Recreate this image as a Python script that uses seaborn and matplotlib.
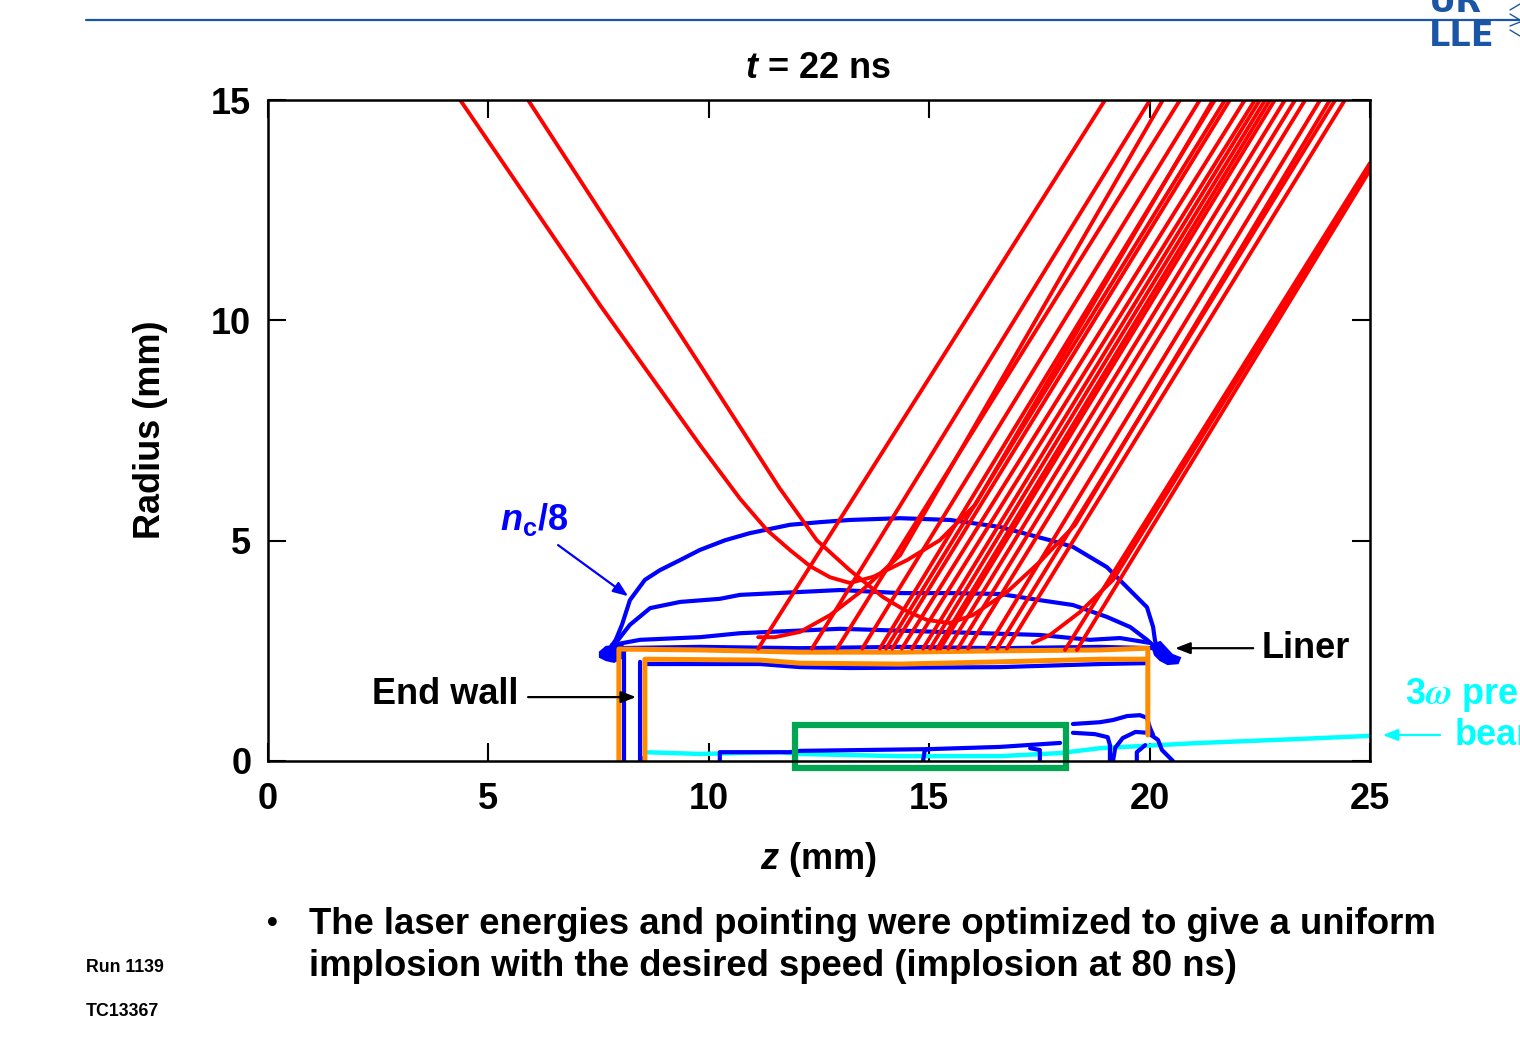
import matplotlib
matplotlib.use("Agg")
import matplotlib.pyplot as plt
from matplotlib.patches import Rectangle, Polygon
from matplotlib.lines import Line2D
import pandas as pd
import seaborn as sns

sns.set_style("ticks")
plt.rcParams["font.family"] = ["Liberation Sans", "DejaVu Sans"]
plt.rcParams["font.weight"] = "bold"
plt.rcParams["text.color"] = "black"
plt.rcParams["xtick.color"] = "black"
plt.rcParams["ytick.color"] = "black"
plt.rcParams["mathtext.fontset"] = "custom"
plt.rcParams["mathtext.rm"] = "Liberation Sans:bold"
plt.rcParams["mathtext.it"] = "Liberation Sans:italic:bold"
plt.rcParams["mathtext.bf"] = "Liberation Sans:bold"

# ---- axes ----
Z_TICKS = [0, 5, 10, 15, 20, 25]
R_TICKS = [0, 5, 10, 15]

# ---- straight incoming rays: z at r = 15 (top) and z where they hit the liner ----
RAY_Z_TOP = [18.99, 20.01, 20.69, 21.14, 21.48, 21.71, 21.82, 22.16, 22.39, 22.50,
             22.62, 22.73, 22.84, 23.07, 23.30, 23.53, 23.87, 24.21, 24.43]
RAY_Z_LINER = [11.12, 12.34, 12.91, 13.48, 13.88, 14.02, 14.16, 14.38, 14.61, 14.86,
               15.02, 15.18, 15.25, 15.43, 15.65, 15.88, 16.31, 16.54, 16.76]
RAY_R_TOP = 15.0
RAY_R_LINER = 2.55

# ---- curved rays (z, r) ----
RAY_HOOK_Z = [11.12, 11.50, 12.07, 12.75, 13.43, 14.34, 20.30]
RAY_HOOK_R = [2.81, 2.81, 2.93, 3.31, 3.83, 4.67, 15.0]
RAY_P1_Z = [4.36, 7.53, 9.80, 10.71, 11.32, 11.85, 12.30, 12.75, 13.20, 13.73, 14.50,
            15.24, 16.04, 21.44]
RAY_P1_R = [15.0, 10.35, 7.17, 5.95, 5.24, 4.78, 4.42, 4.17, 4.04, 4.18, 4.56,
            5.01, 5.81, 15.0]
RAY_P2_Z = [5.90, 9.80, 11.60, 12.45, 13.20, 13.95, 14.45, 14.95, 15.47, 15.99, 16.76,
            17.51, 18.31, 24.09]
RAY_P2_R = [15.0, 8.99, 6.20, 5.01, 4.33, 3.72, 3.42, 3.20, 3.13, 3.31, 3.83,
            4.52, 5.36, 15.0]
RAY_F1_Z = [25.0, 18.08]
RAY_F1_R = [13.57, 2.52]
RAY_F2_Z = [25.0, 18.35]
RAY_F2_R = [13.41, 2.52]
RAY_F3_Z = [25.0, 19.17, 18.42, 17.74, 17.35]
RAY_F3_R = [13.50, 4.11, 3.38, 2.86, 2.68]

# ---- density contours (z, r) ----
NC8_Z = [7.76, 7.89, 8.03, 8.21, 8.55, 8.89, 9.35, 9.80, 10.37, 10.93, 11.84, 12.52, 13.20,
         14.34, 15.47, 16.61, 17.74, 18.26, 19.03, 19.62, 19.94, 20.08, 20.12, 20.17]
NC8_R = [2.56, 2.75, 3.09, 3.65, 4.11, 4.33, 4.56, 4.79, 5.01, 5.17, 5.36, 5.42, 5.47,
         5.51, 5.47, 5.31, 5.01, 4.86, 4.40, 3.81, 3.49, 3.04, 2.75, 2.52]
C2_Z = [7.85, 8.21, 8.67, 9.35, 10.25, 10.71, 12.98, 14.34, 15.47, 16.61, 17.51, 18.26,
        19.03, 19.56, 19.94, 20.12]
C2_R = [2.63, 3.09, 3.47, 3.61, 3.68, 3.77, 3.88, 3.81, 3.81, 3.79, 3.65, 3.54,
        3.27, 3.04, 2.75, 2.59]
C3_Z = [7.80, 8.44, 9.80, 10.71, 12.98, 15.24, 17.51, 18.65, 19.33, 20.01]
C3_R = [2.63, 2.75, 2.81, 2.90, 3.00, 2.93, 2.86, 2.75, 2.79, 2.68]
LINER_OUT_Z = [7.80, 9.80, 12.07, 14.34, 16.61, 18.87, 20.12]
LINER_OUT_R = [2.56, 2.59, 2.56, 2.59, 2.56, 2.59, 2.56]
LINER_IN_Z = [8.55, 11.16, 12.07, 13.20, 16.61, 18.87, 19.94]
LINER_IN_R = [2.20, 2.20, 2.13, 2.11, 2.13, 2.20, 2.22]
WALL_A_Z = [8.08, 8.08]
WALL_A_R = [2.56, 0.0]
WALL_B_Z = [8.44, 8.44, 8.55]
WALL_B_R = [2.25, 0.0, 0.09]
AXIS_A_Z = [10.25, 10.25, 11.84, 12.07, 15.02, 16.61, 17.97]
AXIS_A_R = [0.0, 0.20, 0.20, 0.23, 0.27, 0.32, 0.41]
AXIS_B_Z = [14.86, 14.90, 15.02]
AXIS_B_R = [0.0, 0.25, 0.27]
AXIS_C_Z = [17.51, 17.51, 17.29]
AXIS_C_R = [0.0, 0.25, 0.29]
END_A_Z = [18.26, 18.87, 19.17, 19.49, 19.78, 19.94, 20.01, 20.08]
END_A_R = [0.84, 0.88, 0.93, 1.02, 1.04, 0.98, 0.75, 0.59]
END_B_Z = [18.26, 18.76, 19.05, 19.10, 19.10]
END_B_R = [0.64, 0.61, 0.54, 0.36, 0.0]
END_C_Z = [19.17, 19.22, 19.39, 19.68, 19.96, 20.19, 20.28, 20.53]
END_C_R = [0.0, 0.30, 0.52, 0.66, 0.64, 0.48, 0.25, 0.0]
END_D_Z = [19.71, 19.71, 19.90]
END_D_R = [0.0, 0.20, 0.36]
BLOB_L_Z = [7.53, 7.67, 7.87, 8.03, 8.12, 8.03, 7.85, 7.67, 7.53]
BLOB_L_R = [2.47, 2.59, 2.61, 2.63, 2.52, 2.34, 2.25, 2.29, 2.36]
BLOB_R_Z = [20.05, 20.24, 20.37, 20.51, 20.69, 20.64, 20.41, 20.24, 20.12]
BLOB_R_R = [2.63, 2.70, 2.56, 2.41, 2.34, 2.22, 2.20, 2.29, 2.41]

# ---- liner / end wall (z, r) ----
LINER_OUTER_Z = [7.96, 7.96, 9.80, 12.07, 14.34, 16.61, 18.87, 19.96, 19.96]
LINER_OUTER_R = [0.0, 2.54, 2.52, 2.47, 2.47, 2.50, 2.52, 2.56, 0.59]
LINER_INNER_Z = [8.55, 8.55, 11.16, 12.07, 14.34, 16.61, 18.87, 19.92]
LINER_INNER_R = [0.0, 2.31, 2.29, 2.22, 2.20, 2.25, 2.31, 2.31]

# ---- 3-omega preheat beam (z, r) ----
BEAM_Z = [8.55, 9.80, 11.62, 12.07, 14.34, 16.61, 17.97, 18.87, 21.14, 23.41, 25.0]
BEAM_R = [0.20, 0.16, 0.20, 0.16, 0.11, 0.11, 0.18, 0.29, 0.41, 0.50, 0.57]

# ---- highlighted region (z0, r0, width, height) ----
BOX = (11.96, -0.16, 6.14, 0.98)

RED = "#ff0000"
BLUE = "#0000ff"
ORANGE = "#ff8c00"
CYAN = "#00ffff"
GREEN = "#00a651"
LOGO_BLUE = "#1a55a6"
FS = 26

fig = plt.figure(figsize=(15.2, 10.41), dpi=100)
ax = fig.add_axes([268 / 1520, 1 - 761 / 1041, 1102 / 1520, 661 / 1041])


def frame(pairs):
    rows = []
    for k, (zs, rs) in enumerate(pairs):
        for i, (z, r) in enumerate(zip(zs, rs)):
            rows.append({"id": k, "order": i, "z": z, "r": r})
    return pd.DataFrame(rows)


# preheat beam
ax.plot(BEAM_Z, BEAM_R, color=CYAN, lw=3.2, zorder=2, solid_capstyle="round")

# blue density contours
blue_df = frame([(NC8_Z, NC8_R), (C2_Z, C2_R), (C3_Z, C3_R),
                 (LINER_OUT_Z, LINER_OUT_R), (LINER_IN_Z, LINER_IN_R),
                 (WALL_A_Z, WALL_A_R), (WALL_B_Z, WALL_B_R),
                 (AXIS_A_Z, AXIS_A_R), (AXIS_B_Z, AXIS_B_R), (AXIS_C_Z, AXIS_C_R),
                 (END_A_Z, END_A_R), (END_B_Z, END_B_R), (END_C_Z, END_C_R),
                 (END_D_Z, END_D_R)])
sns.lineplot(data=blue_df, x="z", y="r", units="id", estimator=None, sort=False,
             color=BLUE, lw=3.0, ax=ax, legend=False, zorder=3)
for zs, rs in [(BLOB_L_Z, BLOB_L_R), (BLOB_R_Z, BLOB_R_R)]:
    ax.add_patch(Polygon(list(zip(zs, rs)), closed=True, fc=BLUE, ec=BLUE, lw=1.5, zorder=3))

# liner and end wall
for zs, rs in [(LINER_OUTER_Z, LINER_OUTER_R), (LINER_INNER_Z, LINER_INNER_R)]:
    ax.plot(zs, rs, color=ORANGE, lw=3.6, zorder=4, solid_capstyle="round",
            solid_joinstyle="round")

# laser rays
ray_sets = [([zt, zb], [RAY_R_TOP, RAY_R_LINER]) for zt, zb in zip(RAY_Z_TOP, RAY_Z_LINER)]
ray_sets += [(RAY_HOOK_Z, RAY_HOOK_R), (RAY_P1_Z, RAY_P1_R), (RAY_P2_Z, RAY_P2_R),
             (RAY_F1_Z, RAY_F1_R), (RAY_F2_Z, RAY_F2_R), (RAY_F3_Z, RAY_F3_R)]
ray_df = frame(ray_sets)
sns.lineplot(data=ray_df, x="z", y="r", units="id", estimator=None, sort=False,
             color=RED, lw=2.8, ax=ax, legend=False, zorder=5)

# highlighted region
ax.add_patch(Rectangle(BOX[:2], BOX[2], BOX[3], fill=False, ec=GREEN, lw=4.5,
                       zorder=6, clip_on=False))

ax.set_xlim(Z_TICKS[0], Z_TICKS[-1])
ax.set_ylim(R_TICKS[0], R_TICKS[-1])
ax.set_xticks(Z_TICKS)
ax.set_yticks(R_TICKS)
ax.set_xticklabels([str(t) for t in Z_TICKS])
ax.set_yticklabels([str(t) for t in R_TICKS])
ax.tick_params(direction="in", length=13, width=1.5, top=True, right=True,
               labelsize=FS, color="black", labelcolor="black")
ax.tick_params(axis="x", pad=15)
ax.tick_params(axis="y", pad=12)
for lab in ax.get_xticklabels() + ax.get_yticklabels():
    lab.set_fontweight("bold")
for sp in ax.spines.values():
    sp.set_linewidth(1.8)
    sp.set_color("black")
    sp.set_zorder(7)
ax.set_xlabel("")
ax.set_ylabel("")

ax.text(0.499, 1.048, r"$\it{t}$ = 22 ns", transform=ax.transAxes, ha="center",
        va="center", fontsize=FS, fontweight="bold")
ax.text(0.499, -0.1497, r"$\it{z}$ (mm)", transform=ax.transAxes, ha="center",
        va="center", fontsize=FS, fontweight="bold")
ax.text(-0.107, 0.5008, "Radius (mm)", transform=ax.transAxes, ha="center",
        va="center", rotation=90, fontsize=FS, fontweight="bold")

# annotations
ARROW = "-|>,head_length=0.9,head_width=0.35"
ax.annotate("", xy=(8.17, 3.74), xytext=(6.58, 4.90),
            arrowprops=dict(arrowstyle=ARROW, color=BLUE, lw=1.6, shrinkA=0, shrinkB=0),
            zorder=8)
ax.text(5.26, 5.47, r"$\it{n}_\mathrm{c}$/8", color=BLUE, fontsize=FS,
        fontweight="bold", ha="left", va="center")
ax.annotate("", xy=(20.58, 2.56), xytext=(22.35, 2.56), annotation_clip=False,
            arrowprops=dict(arrowstyle=ARROW, color="black", lw=1.6, shrinkA=0, shrinkB=0),
            zorder=8)
ax.text(22.55, 2.56, "Liner", fontsize=FS, fontweight="bold", ha="left", va="center",
        clip_on=False)
ax.annotate("", xy=(8.35, 1.45), xytext=(5.90, 1.45), annotation_clip=False,
            arrowprops=dict(arrowstyle=ARROW, color="black", lw=1.6, shrinkA=0, shrinkB=0),
            zorder=8)
ax.text(5.67, 1.50, "End wall", fontsize=FS, fontweight="bold", ha="right", va="center")
ax.annotate("", xy=(25.29, 0.59), xytext=(26.59, 0.59), annotation_clip=False,
            arrowprops=dict(arrowstyle=ARROW, color=CYAN, lw=1.6, shrinkA=0, shrinkB=0),
            zorder=8)
ax.text(25.79, 1.52, r"3$\omega$ preheat", color=CYAN, fontsize=FS, fontweight="bold",
        ha="left", va="center", clip_on=False, math_fontfamily="stix")
ax.text(26.93, 0.57, "beam", color=CYAN, fontsize=FS, fontweight="bold",
        ha="left", va="center", clip_on=False)

# header rule and logo
fig.add_artist(Line2D([86 / 1520, 1.0], [1 - 20 / 1041] * 2, color=LOGO_BLUE, lw=1.6))
fig.text(1429 / 1520, 1 - 37 / 1041, "LLE", color=LOGO_BLUE, fontsize=24,
         fontweight="bold", ha="left", va="center", family="DejaVu Sans")
fig.text(1429 / 1520, 1 - 3 / 1041, "UR", color=LOGO_BLUE, fontsize=24,
         fontweight="bold", ha="left", va="center", family="DejaVu Sans")
for y0, y1 in [(10, 4), (14, 20), (26, 22), (30, 36)]:
    fig.add_artist(Line2D([1510 / 1520, 1.0], [1 - y0 / 1041, 1 - y1 / 1041],
                          color=LOGO_BLUE, lw=1.0))

# bullet text
fig.text(272 / 1520, 1 - 924 / 1041, "\u2022", fontsize=22, fontweight="bold",
         ha="center", va="center")
fig.text(309 / 1520, 1 - 924 / 1041,
         "The laser energies and pointing were optimized to give a uniform",
         fontsize=26.3, fontweight="bold", ha="left", va="center")
fig.text(309 / 1520, 1 - 967 / 1041,
         "implosion with the desired speed (implosion at 80 ns)",
         fontsize=26.3, fontweight="bold", ha="left", va="center")
fig.text(86 / 1520, 1 - 968 / 1041, "Run 1139", fontsize=12.8, fontweight="bold",
         ha="left", va="center")
fig.text(86 / 1520, 1 - 1012 / 1041, "TC13367", fontsize=12.8, fontweight="bold",
         ha="left", va="center")

fig.savefig("out.png", dpi=100)
